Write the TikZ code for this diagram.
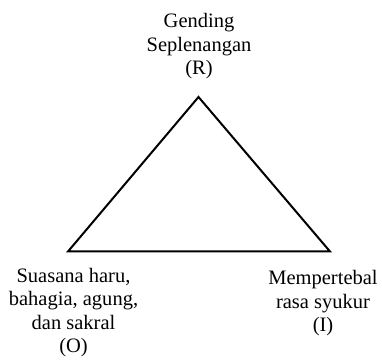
\documentclass[tikz,border=0pt]{standalone}
\usepackage{fontspec}
\setmainfont{Liberation Serif}
\begin{document}
\begin{tikzpicture}[x=1pt,y=1pt,
  lbl/.style={align=center,inner sep=0pt,anchor=base,font=\fontsize{20.5}{23.5}\selectfont},
  tri/.style={line width=2pt,line join=miter}]
\useasboundingbox (0,0) rectangle (382,363);
\coordinate (R) at (198.5,266);
\coordinate (O) at (68,111.5);
\coordinate (I) at (330,111.5);
\draw[tri] (R) -- (O) -- (I) -- cycle;
\node[lbl] (tR) at (199,288) {Gending\\Seplenangan\\(R)};
\node[lbl] (tO) at (73.5,10) {Suasana haru,\\bahagia, agung,\\dan sakral\\(O)};
\node[lbl] (tI) at (323,31) {Mempertebal\\rasa syukur\\(I)};
\end{tikzpicture}
\end{document}
